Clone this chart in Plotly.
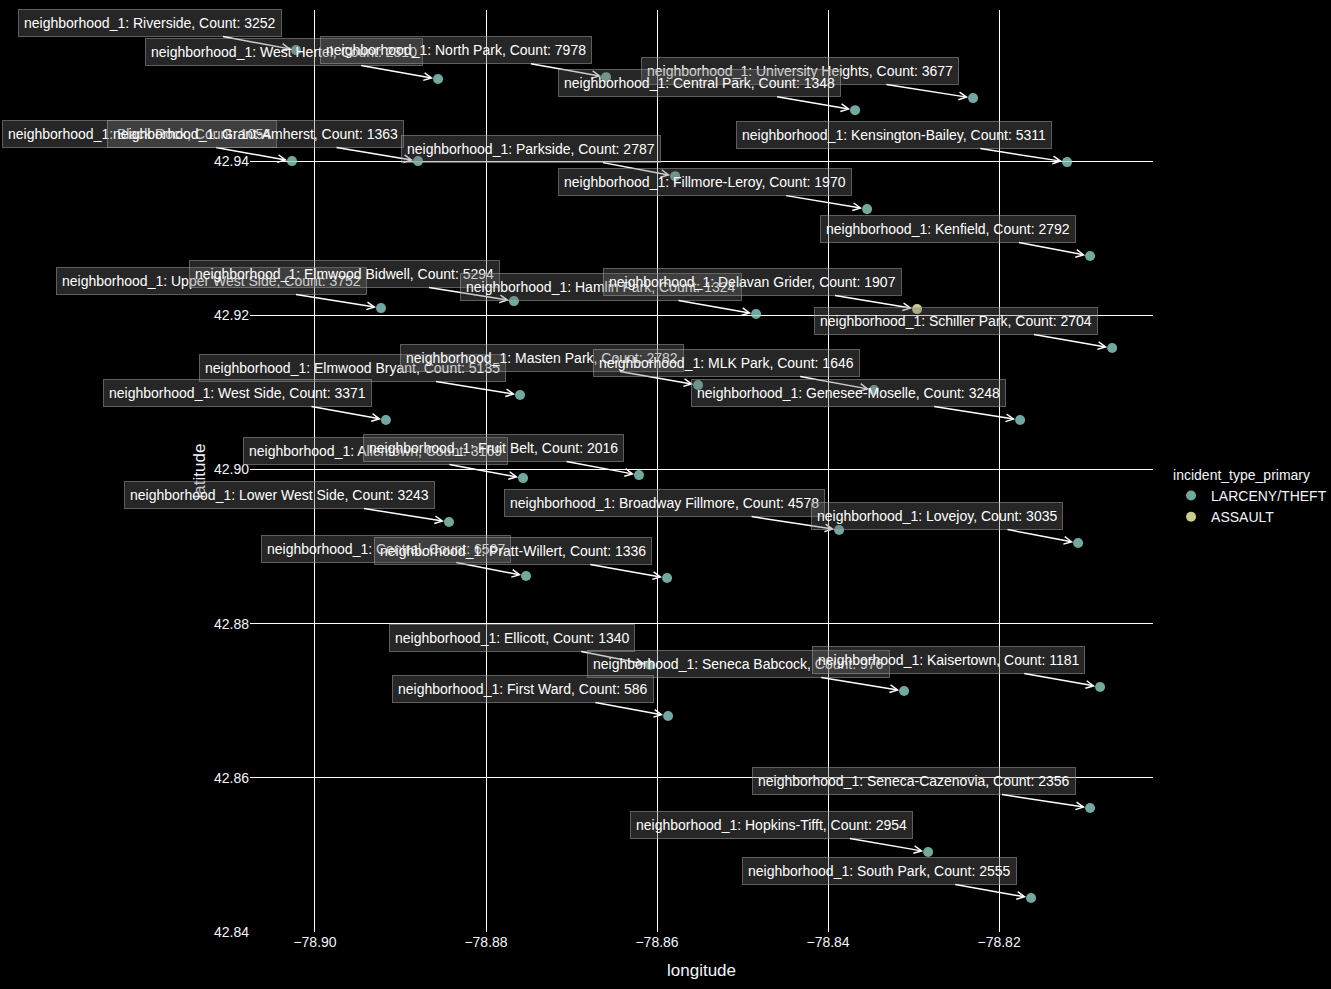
import plotly.graph_objects as go

# ---------------- data ----------------
neighborhoods = [
    "Riverside", "West Hertel", "North Park", "University Heights", "Central Park",
    "Black Rock", "Grant-Amherst", "Parkside", "Kensington-Bailey", "Fillmore-Leroy",
    "Kenfield", "Upper West Side", "Elmwood Bidwell", "Hamlin Park", "Delavan Grider",
    "Schiller Park", "Elmwood Bryant", "Masten Park", "MLK Park", "Genesee-Moselle",
    "West Side", "Allentown", "Fruit Belt", "Lower West Side", "Broadway Fillmore",
    "Lovejoy", "Central", "Pratt-Willert", "Ellicott", "Seneca Babcock",
    "Kaisertown", "First Ward", "Seneca-Cazenovia", "Hopkins-Tifft", "South Park",
]
counts = [
    3252, 2310, 7978, 3677, 1348,
    1054, 1363, 2787, 5311, 1970,
    2792, 3752, 5294, 1324, 1907,
    2704, 5135, 2782, 1646, 3248,
    3371, 3169, 2016, 3243, 4578,
    3035, 6567, 1336, 1340, 976,
    1181, 586, 2356, 2954, 2555,
]
longitudes = [
    -78.90222, -78.88561, -78.86596, -78.82304, -78.83684,
    -78.90269, -78.88795, -78.85789, -78.81205, -78.83544,
    -78.80936, -78.89228, -78.87673, -78.84842, -78.82959,
    -78.80678, -78.87602, -78.85520, -78.83462, -78.81754,
    -78.89170, -78.87567, -78.86211, -78.88433, -78.83871,
    -78.81076, -78.87532, -78.85883, -78.86082, -78.83111,
    -78.80819, -78.85871, -78.80936, -78.82830, -78.81626,
]
latitudes = [
    42.95440, 42.95064, 42.95089, 42.94817, 42.94661,
    42.94000, 42.94000, 42.93805, 42.93987, 42.93377,
    42.92768, 42.92093, 42.92184, 42.92016, 42.92080,
    42.91575, 42.90965, 42.91095, 42.91030, 42.90641,
    42.90641, 42.89888, 42.89927, 42.89318, 42.89214,
    42.89045, 42.88617, 42.88591, 42.87463, 42.87126,
    42.87178, 42.86802, 42.85608, 42.85038, 42.84441,
]
incident_types = ["LARCENY/THEFT"] * 35
incident_types[14] = "ASSAULT"

type_order = ["LARCENY/THEFT", "ASSAULT"]
type_colors = {"LARCENY/THEFT": "#8dd3c7", "ASSAULT": "#ffffb3"}

x_ticks = [-78.90, -78.88, -78.86, -78.84, -78.82]
y_ticks = [42.84, 42.86, 42.88, 42.90, 42.92, 42.94]

# ---------------- helpers ----------------
FONT = "Liberation Sans, Arial, sans-serif"
FS = 14
W = {' ': 278, '-': 333, '_': 556, ':': 278, ',': 278, '/': 278, '.': 278}
for ch in "0123456789":
    W[ch] = 556
W.update(dict(a=556, b=556, c=500, d=556, e=556, f=278, g=556, h=556, i=222, j=222,
              k=500, l=222, m=833, n=556, o=556, p=556, q=556, r=333, s=500, t=278,
              u=556, v=500, w=722, x=500, y=500, z=500))
W.update(dict(A=667, B=667, C=722, D=722, E=667, F=611, G=778, H=722, I=278, J=500,
              K=667, L=556, M=833, N=722, O=778, P=667, Q=778, R=722, S=667, T=611,
              U=722, V=667, W=944, X=667, Y=667, Z=611))


def text_width(s):
    return sum(W.get(c, 556) for c in s) * FS / 1000.0


BPAD, BW = 5, 1
OFF_Y = 27

fig = go.Figure()
for t in type_order:
    idx = [i for i, v in enumerate(incident_types) if v == t]
    fig.add_trace(go.Scatter(
        x=[longitudes[i] for i in idx],
        y=[latitudes[i] for i in idx],
        mode="markers",
        name=t,
        marker=dict(color=type_colors[t], size=10, opacity=0.8),
    ))

for i, name in enumerate(neighborhoods):
    label = f"neighborhood_1: {name}, Count: {counts[i]}"
    box_w = text_width(label) + 2 * BPAD + 2 * BW
    fig.add_annotation(
        x=longitudes[i], y=latitudes[i], xref="x", yref="y",
        text=label, showarrow=True,
        ax=-(box_w / 2 + 14.5), ay=-OFF_Y,
        arrowhead=5, arrowsize=1, arrowwidth=1.5, arrowcolor="white",
        standoff=5,
        font=dict(color="white", size=FS, family=FONT),
        bgcolor="rgba(110,110,110,0.35)",
        bordercolor="rgba(170,170,170,0.5)",
        borderwidth=BW, borderpad=BPAD,
    )

fig.update_layout(
    width=1331, height=989,
    paper_bgcolor="black", plot_bgcolor="black",
    font=dict(family=FONT, size=FS, color="#f2f5fa"),
    margin=dict(l=250, r=178, t=10, b=57, autoexpand=False),
    legend=dict(title=dict(text="incident_type_primary", font=dict(size=14)),
                font=dict(size=14),
                x=1.02, xanchor="left", y=0.51, yanchor="top",
                bgcolor="rgba(0,0,0,0)"),
    xaxis=dict(title=dict(text="longitude"), range=[-78.9076, -78.8020],
               tickvals=x_ticks, tickformat=".2f",
               showgrid=True, gridcolor="white", gridwidth=1,
               zeroline=False, showline=False),
    yaxis=dict(title=dict(text="latitude", standoff=4), range=[42.84, 42.9596],
               tickvals=y_ticks, tickformat=".2f",
               showgrid=True, gridcolor="white", gridwidth=1,
               zeroline=False, showline=False),
)

fig.write_html("out.html")
